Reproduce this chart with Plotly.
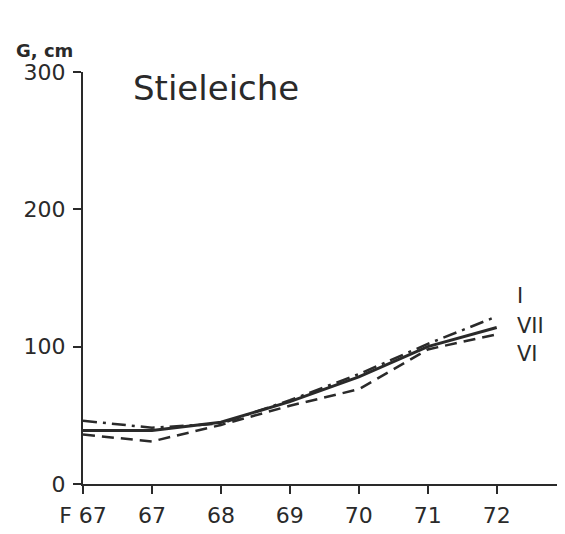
import plotly.graph_objects as go

categories = ["F 67", "67", "68", "69", "70", "71", "72"]
series_I = [46, 41, 44, 61, 80, 102, 122]     # dash-dot
series_VII = [39, 39, 45, 60, 78, 100, 114]   # solid
series_VI = [36, 31, 43, 57, 69, 98, 109]     # dashed
y_ticks = [0, 100, 200, 300]

xs = list(range(len(categories)))
ink = "#2a2a2a"
font = "DejaVu Sans, Liberation Sans, Arial, sans-serif"

fig = go.Figure()
fig.add_trace(go.Scatter(x=xs, y=series_VII, mode="lines",
                         line=dict(color=ink, width=3), name="VII"))
fig.add_trace(go.Scatter(x=xs, y=series_VI, mode="lines",
                         line=dict(color=ink, width=2.5, dash="12px,7px"), name="VI"))
fig.add_trace(go.Scatter(x=xs, y=series_I, mode="lines",
                         line=dict(color=ink, width=2.5, dash="14px,6px,3px,6px"), name="I"))

# figure sized/margined to compensate for the 8px default body margin of the html page
fig.update_layout(
    width=557, height=526,
    margin=dict(l=75, r=0, t=64, b=50),
    paper_bgcolor="white", plot_bgcolor="white",
    showlegend=False,
    font=dict(family=font, color=ink, size=22),
    xaxis=dict(range=[0, 6.99], tickmode="array", tickvals=xs, ticktext=categories,
               showgrid=False, zeroline=False, showline=True, linecolor=ink, linewidth=2,
               ticks="outside", ticklen=8, tickwidth=2, tickcolor=ink, ticklabelstandoff=3,
               tickfont=dict(size=22, color=ink, family=font)),
    yaxis=dict(range=[0, 300], tickmode="array", tickvals=y_ticks,
               showgrid=False, zeroline=False, showline=True, linecolor=ink, linewidth=2,
               ticks="outside", ticklen=8, tickwidth=2, tickcolor=ink, ticklabelstandoff=3,
               tickfont=dict(size=22, color=ink, family=font)),
)

fig.add_annotation(x=1.93, y=288, xref="x", yref="y", text="Stieleiche", showarrow=False,
                   xanchor="center", yanchor="middle",
                   font=dict(size=34, color=ink, family=font))
fig.add_annotation(x=-0.079, y=1.053, xref="paper", yref="paper", text="<b>G, cm</b>",
                   showarrow=False, xanchor="center", yanchor="middle",
                   font=dict(size=18, color=ink, family=font))
fig.add_annotation(x=6.34, y=137, xref="x", yref="y", text="I", showarrow=False,
                   xanchor="center", yanchor="middle", font=dict(size=21, color=ink, family=font))
for label, yv in [("VII", 115), ("VI", 95)]:
    fig.add_annotation(x=6.27, y=yv, xref="x", yref="y", text=label, showarrow=False,
                       xanchor="left", yanchor="middle", font=dict(size=21, color=ink, family=font))

fig.write_html("out.html")
